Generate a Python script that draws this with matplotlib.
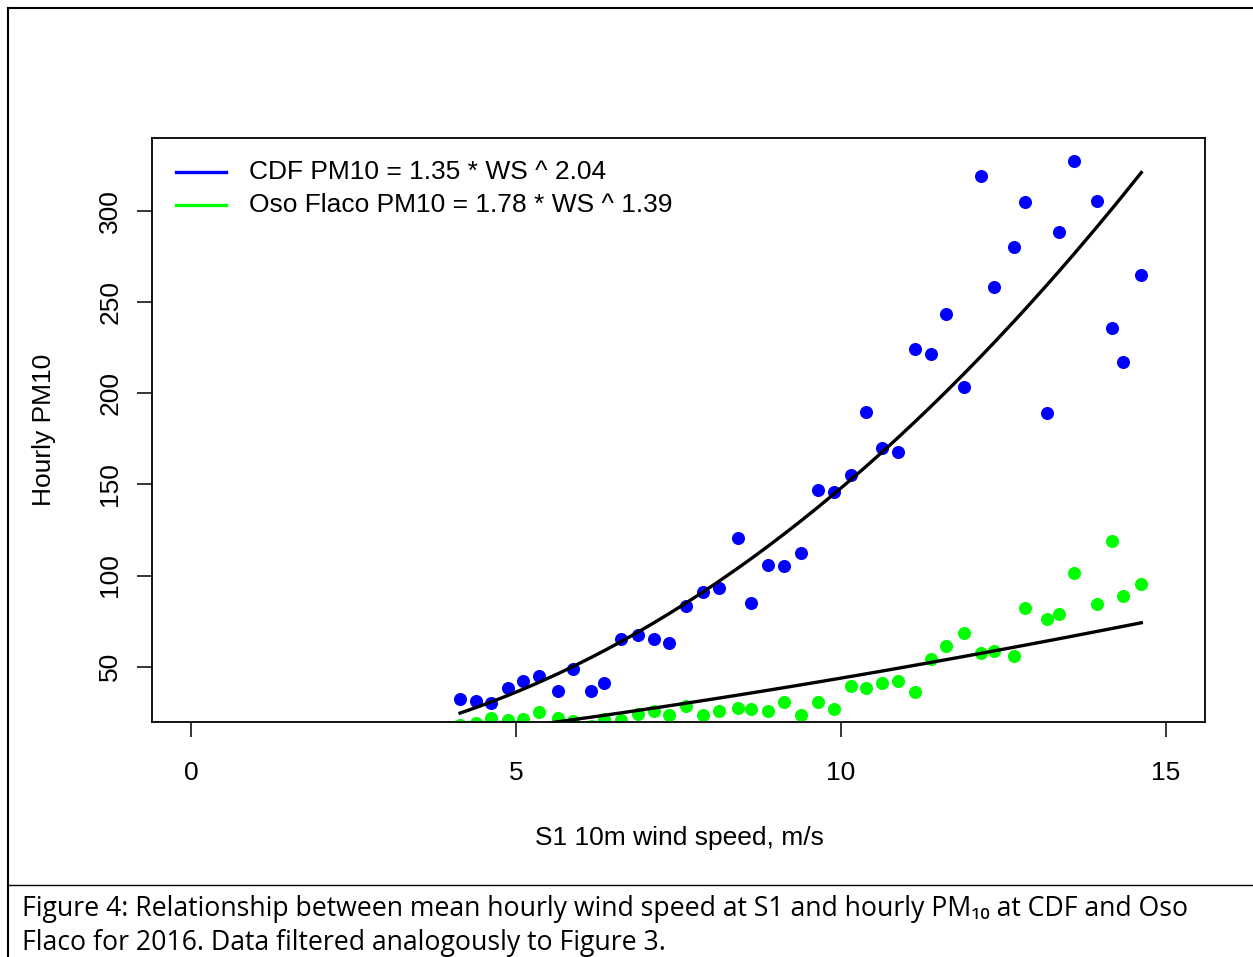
import numpy as np
import matplotlib
matplotlib.use("Agg")
import matplotlib.pyplot as plt
from matplotlib.lines import Line2D

# ---- data ----
wind_speed = [4.14, 4.39, 4.62, 4.88, 5.11, 5.36, 5.65, 5.87, 6.16, 6.36, 6.61, 6.87,
              7.13, 7.36, 7.62, 7.87, 8.12, 8.41, 8.62, 8.87, 9.13, 9.38, 9.64, 9.89,
              10.16, 10.38, 10.63, 10.87, 11.14, 11.38, 11.61, 11.89, 12.15, 12.35,
              12.66, 12.83, 13.17, 13.35, 13.58, 13.94, 14.17, 14.34, 14.62]
cdf_pm10 = [32.5, 31.4, 30.3, 38.0, 42.3, 45.1, 36.8, 48.9, 36.8, 41.2, 65.4, 67.5,
            65.4, 63.2, 83.4, 91.1, 93.3, 120.7, 85.1, 105.9, 105.4, 112.5, 147.0, 145.9,
            155.2, 189.8, 170.1, 167.9, 224.3, 221.6, 243.5, 203.5, 319.2, 258.3,
            280.3, 304.9, 189.3, 288.5, 327.4, 305.5, 235.9, 217.2, 264.9]
oso_pm10 = [18.2, 19.3, 22.0, 20.9, 21.5, 25.3, 22.0, 20.4, 17.5, 21.5, 20.9, 24.2,
            25.8, 23.7, 28.6, 23.7, 25.8, 27.4, 26.8, 25.8, 30.6, 23.7, 30.6, 26.8,
            39.6, 38.5, 41.2, 42.3, 36.3, 54.4, 61.5, 68.6, 57.7, 58.8, 56.0, 82.4,
            76.3, 79.1, 101.5, 84.5, 119.1, 88.9, 95.5]
cdf_fit = (1.35, 2.04)
oso_fit = (1.78, 1.39)
x_ticks = [0, 5, 10, 15]
y_ticks = [50, 100, 150, 200, 250, 300]
legend_labels = ["CDF PM10 = 1.35 * WS ^ 2.04", "Oso Flaco PM10 = 1.78 * WS ^ 1.39"]
legend_colors = ["#0000ff", "#00ff00"]
caption_1 = "Figure 4: Relationship between mean hourly wind speed at S1 and hourly PM\u2081\u2080 at CDF and Oso"
caption_2 = "Flaco for 2016. Data filtered analogously to Figure 3."

W, H = 1253, 957
fig = plt.figure(figsize=(W / 100, H / 100), dpi=100)
fig.patch.set_facecolor("white")

def fx(px):
    return px / W

def fy(py):
    return 1 - py / H

ax = fig.add_axes([fx(152), fy(722), fx(1205) - fx(152), fy(138) - fy(722)])
FONT = "Liberation Sans"
FS = 19

ws = np.array(wind_speed)
ax.plot(ws, cdf_pm10, "o", color="#0000ff", ms=9.4, mew=0, zorder=2)
ax.plot(ws, oso_pm10, "o", color="#00ff00", ms=9.4, mew=0, zorder=2)
ax.plot(ws, cdf_fit[0] * ws ** cdf_fit[1], color="black", lw=2.4, zorder=3)
ax.plot(ws, oso_fit[0] * ws ** oso_fit[1], color="black", lw=2.4, zorder=3)

ax.set_xlim(-0.6, 15.6)
ax.set_ylim(19.6, 340.2)
ax.set_xticks(x_ticks)
ax.set_xticklabels([str(t) for t in x_ticks], fontsize=FS, family=FONT)
ax.set_yticks(y_ticks)
ax.set_yticklabels([str(t) for t in y_ticks], fontsize=FS, family=FONT, rotation=90, va="center")
ax.tick_params(axis="x", length=11, width=1.1, pad=17)
ax.tick_params(axis="y", length=11, width=1.1, pad=10.5)
for s in ax.spines.values():
    s.set_linewidth(1.3)

fig.text(fx(44), fy(430), "Hourly PM10", rotation=90, ha="center", va="center",
         fontsize=FS, family=FONT)
fig.text(fx(679), fy(838), "S1 10m wind speed, m/s", ha="center", va="center",
         fontsize=FS, family=FONT)

# legend (no box), drawn by hand
for i, (lab, col) in enumerate(zip(legend_labels, legend_colors)):
    yy = fy(172 + 33 * i)
    fig.add_artist(Line2D([fx(176), fx(226)], [yy, yy], color=col, lw=2.4,
                          transform=fig.transFigure))
    fig.text(fx(249), yy, lab, ha="left", va="center", fontsize=FS, family=FONT)

# outer frame
frame_kw = dict(color="black", lw=1.5, transform=fig.transFigure)
fig.add_artist(Line2D([fx(8), 1], [fy(8), fy(8)], **frame_kw))
fig.add_artist(Line2D([fx(8), fx(8)], [fy(8), 0], **frame_kw))
fig.add_artist(Line2D([fx(8), 1], [fy(885), fy(885)], color="black", lw=1.0, transform=fig.transFigure))

cap_font = ["Open Sans", "Noto Sans", "DejaVu Sans"]
fig.text(fx(22), fy(916), caption_1, ha="left", va="baseline", fontsize=19.2, family=cap_font)
fig.text(fx(22), fy(950), caption_2, ha="left", va="baseline", fontsize=19.2, family=cap_font)

fig.savefig("out.png", dpi=100)
